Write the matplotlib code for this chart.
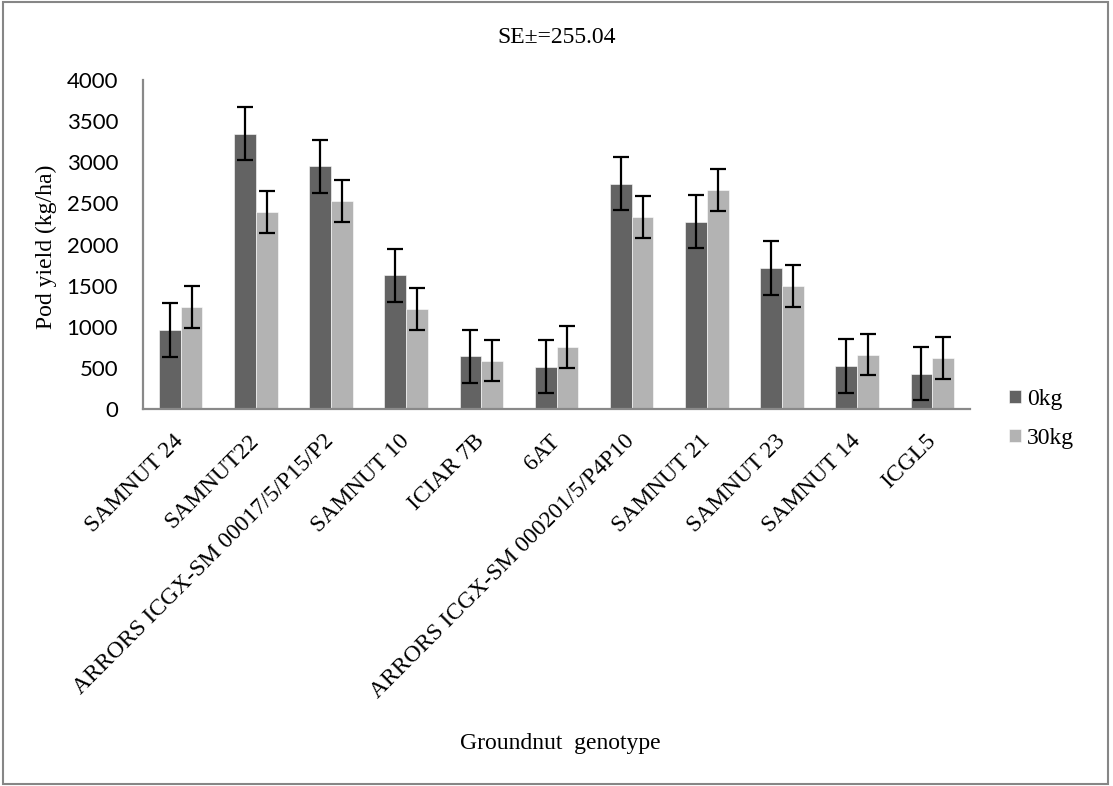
import numpy as np
import matplotlib
matplotlib.use("Agg")
import matplotlib.pyplot as plt
from matplotlib.patches import Rectangle

genotypes = ["SAMNUT 24", "SAMNUT22", "ARRORS ICGX-SM 00017/5/P15/P2", "SAMNUT 10",
             "ICIAR 7B", "6AT", "ARRORS ICGX-SM 000201/5/P4P10", "SAMNUT 21",
             "SAMNUT 23", "SAMNUT 14", "ICGL5"]
yield_0kg = [960, 3350, 2950, 1625, 640, 515, 2740, 2280, 1715, 525, 430]
yield_30kg = [1240, 2395, 2525, 1220, 590, 757, 2335, 2668, 1502, 663, 623]
err_0kg = [325] * 11
err_30kg = [255] * 11
series_names = ["0kg", "30kg"]
yticks = [0, 500, 1000, 1500, 2000, 2500, 3000, 3500, 4000]

serif = "Liberation Serif"
sans = "Lato"

fig = plt.figure(figsize=(11.13, 7.86), dpi=100)
ax = fig.add_axes([0.1285, 0.4796, 0.743, 0.4184])

x = np.arange(len(genotypes))
w = 0.29
ax.bar(x - w / 2, yield_0kg, w, color="#636363", edgecolor="white", linewidth=0.4,
       label=series_names[0])
ax.bar(x + w / 2, yield_30kg, w, color="#b3b3b3", edgecolor="white", linewidth=0.4,
       label=series_names[1])
ax.errorbar(x - w / 2, yield_0kg, yerr=err_0kg, fmt="none", ecolor="black",
            elinewidth=1.6, capsize=6, capthick=1.6)
ax.errorbar(x + w / 2, yield_30kg, yerr=err_30kg, fmt="none", ecolor="black",
            elinewidth=1.6, capsize=6, capthick=1.6)

ax.set_xlim(-0.5, len(genotypes) - 0.5)
ax.set_ylim(0, 4000)
ax.set_yticks(yticks)
ax.set_yticklabels([str(v) for v in yticks], fontfamily=sans, fontsize=16)
ax.set_xticks(x)
ax.set_xticklabels(genotypes, rotation=45, ha="right", va="center",
                   rotation_mode="anchor", fontfamily=serif, fontsize=17)
ax.tick_params(axis="both", length=0)
ax.tick_params(axis="x", pad=21)
ax.tick_params(axis="y", pad=18)

for s in ["top", "right"]:
    ax.spines[s].set_visible(False)
for s in ["left", "bottom"]:
    ax.spines[s].set_color("#898989")
    ax.spines[s].set_linewidth(1.6)

fig.text(0.5, 0.9517, "SE\u00b1=255.04", ha="center", va="center",
         fontfamily=serif, fontsize=17)
fig.text(0.042, 0.686, "Pod yield (kg/ha)", rotation=90, ha="center", va="center",
         fontfamily=serif, fontsize=17)
fig.text(0.503, 0.0547, "Groundnut  genotype", ha="center", va="center",
         fontfamily=serif, fontsize=17)

ax.legend(loc="center left", bbox_to_anchor=(0.898, 0.467), bbox_transform=fig.transFigure,
          frameon=False, prop={"family": serif, "size": 17}, handlelength=0.5,
          handleheight=0.5, handletextpad=0.25, labelspacing=0.75, borderaxespad=0)

fig.patches.append(Rectangle((0.0027, 0.0025), 0.9928, 0.995, transform=fig.transFigure,
                             fill=False, edgecolor="#868686", linewidth=1.5))

fig.savefig("out.png", dpi=100)
